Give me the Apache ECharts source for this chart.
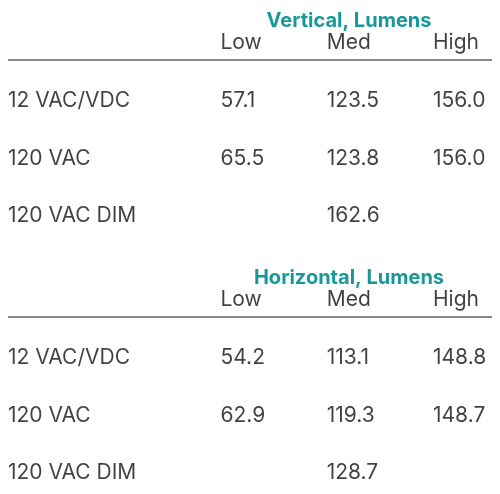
<!DOCTYPE html>
<html>
<head>
<meta charset="utf-8">
<script src="https://cdn.jsdelivr.net/npm/echarts@6/dist/echarts.min.js"></script>
<style>html,body{margin:0;padding:0;background:#fff}#chart{width:500px;height:494px}</style>
</head>
<body>
<div id="chart"></div>
<script>
// table data
var sectionTitles = ['Vertical, Lumens', 'Horizontal, Lumens'];
var levels = ['Low', 'Med', 'High'];
var rowNames = ['12 VAC/VDC', '120 VAC', '120 VAC DIM'];
var vertical = [['57.1', '123.5', '156.0'], ['65.5', '123.8', '156.0'], [null, '162.6', null]];
var horizontal = [['54.2', '113.1', '148.8'], ['62.9', '119.3', '148.7'], [null, '128.7', null]];

var xCats = ['name', 'gap', 'Low', 'Med', 'High'];
var yCats = ['head', 'r0', 'r1', 'r2'];

function cells(values) {
    var out = [];
    levels.forEach(function (lv, i) { out.push([i + 2, 0, lv]); });
    rowNames.forEach(function (name, r) {
        out.push([0, r + 1, name]);
        values[r].forEach(function (v, c) {
            if (v !== null) out.push([c + 2, r + 1, v]);
        });
    });
    return out;
}

var tops = [43, 300];
var grids = [], xAxes = [], yAxes = [], series = [], titles = [], lines = [];
[vertical, horizontal].forEach(function (vals, k) {
    grids.push({left: 8, width: 425, top: tops[k], height: 173});
    xAxes.push({type: 'category', data: xCats, boundaryGap: false, gridIndex: k, show: false});
    yAxes.push({type: 'category', data: yCats, boundaryGap: false, inverse: true, gridIndex: k, show: false});
    series.push({
        type: 'scatter', xAxisIndex: k, yAxisIndex: k, symbolSize: 0, silent: true,
        data: cells(vals),
        label: {
            show: true, position: 'right', distance: 0,
            formatter: function (p) { return p.value[2]; },
            fontFamily: 'Inter', fontSize: 21, color: '#111', textBorderWidth: 0
        }
    });
    titles.push({
        text: sectionTitles[k], left: 344, top: tops[k] - 37, textAlign: 'center',
        textStyle: {fontFamily: 'Inter', fontSize: 20, fontWeight: 'bold', color: '#17999a'}
    });
    lines.push({
        type: 'line', shape: {x1: 8, y1: tops[k] + 17, x2: 492, y2: tops[k] + 17},
        style: {stroke: '#111', lineWidth: 1}
    });
});

var myChart = echarts.init(document.getElementById('chart'));
myChart.setOption({
    animation: false,
    title: titles,
    grid: grids,
    xAxis: xAxes,
    yAxis: yAxes,
    series: series,
    graphic: lines
});
</script>
</body>
</html>
